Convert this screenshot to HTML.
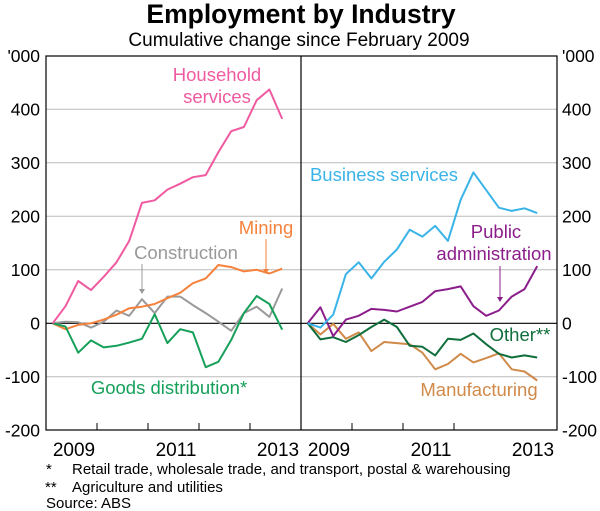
<!DOCTYPE html>
<html><head><meta charset="utf-8"><style>
html,body{margin:0;padding:0;background:#fff;}
svg{display:block;font-family:"Liberation Sans",Arial,sans-serif;}
</style></head><body>
<svg id="chart" width="600" height="511" viewBox="0 0 600 511">
<text x="301" y="23" text-anchor="middle" font-size="26.5" font-weight="bold" fill="#000">Employment by Industry</text>
<text x="299" y="46" text-anchor="middle" font-size="19" fill="#000">Cumulative change since February 2009</text>
<g id="grid"></g>
<g id="series"></g>
<g id="labels" font-size="18.5"></g>
<text x="46" y="474" font-size="15">*</text>
<text x="72" y="474" font-size="15">Retail trade, wholesale trade, and transport, postal &amp; warehousing</text>
<text x="45" y="492" font-size="15">**</text>
<text x="72" y="492" font-size="15">Agriculture and utilities</text>
<text x="46" y="508" font-size="15">Source: ABS</text>
</svg>
<script>
const yTicks = [500, 400, 300, 200, 100, 0, -100, -200];
const yTickLabels = ["'000", "400", "300", "200", "100", "0", "-100", "-200"];
const yearLabels = ["2009", "2011", "2013"];
const household = [0,32,79,62,87,114,154,225,230,250,261,273,277,320,359,367,417,437,382];
const mining = [0,-11,-3,0,7,16,28,31,36,47,57,75,84,109,105,97,100,93,102];
const construction = [0,3,2,-8,3,24,14,45,19,50,50,34,19,3,-14,19,31,12,65];
const goodsDist = [0,-6,-55,-32,-45,-42,-36,-29,17,-37,-11,-17,-82,-72,-31,19,51,36,-12];
const business = [0,-8,16,92,114,84,115,138,175,162,182,154,231,282,249,216,210,215,206];
const publicAdmin = [0,30,-24,7,14,27,25,22,31,40,60,64,69,32,14,24,50,64,107];
const other = [0,-30,-26,-35,-22,-7,7,-7,-42,-44,-60,-29,-31,-19,-39,-57,-64,-60,-64];
const manufacturing = [0,-21,-1,-29,-17,-52,-35,-37,-39,-55,-86,-76,-57,-73,-65,-56,-86,-90,-107];

const NS = "http://www.w3.org/2000/svg";
const L = 46, M = 301, R = 557, T = 56, B = 430;
function y(v){ return 323.3 - v * 0.535; }
function x(i, panel){ return 52.7 + panel * 255 + i * 12.75; }
function mk(tag, attrs, parent){ const e = document.createElementNS(NS, tag); for (const k in attrs) e.setAttribute(k, attrs[k]); parent.appendChild(e); return e; }

const grid = document.getElementById('grid');
yTicks.forEach((v, k) => {
  if (v < 500 && v > -200) {
    const ln = mk('line', {x1:L, x2:R, y1:y(v), y2:y(v), stroke: v===0 ? '#000' : '#bbb', 'stroke-width': v===0 ? 1.2 : 1}, grid);
    
    
  }
  const tl = mk('text', {x: 40, y: y(v) + 6, 'text-anchor':'end', 'font-size':17.5}, grid);
  tl.textContent = yTickLabels[k];
  
  
  const tr = mk('text', {x: 562, y: y(v) + 6, 'font-size':17.5}, grid);
  tr.textContent = yTickLabels[k];
  
  
});
const frame = mk('rect', {x:L, y:T, width:R-L, height:B-T, fill:'none', stroke:'#000', 'stroke-width':1.2}, grid);


const div = mk('line', {x1:M, x2:M, y1:T, y2:B, stroke:'#000', 'stroke-width':1.2}, grid);


for (let p = 0; p < 2; p++) {
  for (let t = 1; t <= 4; t++) {
    const tx = L + p * 255 + t * 51;
    if (t === 4 && p === 1) continue;
    const tk = mk('line', {x1:tx, x2:tx, y1:B, y2:B-7, stroke:'#000'}, grid);
    
    
  }
  yearLabels.forEach((lab, k) => {
    const t = mk('text', {x: 74 + p * 255 + k * 102, y: 456, 'text-anchor':'middle', 'font-size':19}, grid);
    t.textContent = lab;
    
    
  });
}

const seriesG = document.getElementById('series');
function drawLine(data, panel, color, name){
  const pts = data.map((v, i) => x(i, panel).toFixed(1) + ',' + y(v).toFixed(1)).join(' ');
  const pl = mk('polyline', {points: pts, fill:'none', stroke: color, 'stroke-width': 2, 'stroke-linejoin':'round'}, seriesG);
  
  
}
drawLine(construction, 0, '#999999', 'construction-line');
drawLine(mining, 0, '#f5823c', 'mining-line');
drawLine(goodsDist, 0, '#16a05a', 'goods-distribution-line');
drawLine(household, 0, '#ef5aa0', 'household-services-line');
drawLine(manufacturing, 1, '#d08a4a', 'manufacturing-line');
drawLine(other, 1, '#0f6e3c', 'other-line');
drawLine(publicAdmin, 1, '#8c1e8c', 'public-administration-line');
drawLine(business, 1, '#3ab4e8', 'business-services-line');

const lg = document.getElementById('labels');
function lab(txt, lx, ly, color, anchor, name){
  const t = mk('text', {x:lx, y:ly, fill:color, 'text-anchor':anchor}, lg);
  t.textContent = txt;
  
  
}
lab('Household', 217, 81, '#ef5aa0', 'middle', 'household-label-1');
lab('services', 217, 103, '#ef5aa0', 'middle', 'household-label-2');
lab('Mining', 266, 234, '#f5823c', 'middle', 'mining-label');
lab('Construction', 186, 259, '#999999', 'middle', 'construction-label');
lab('Goods distribution*', 169, 394, '#16a05a', 'middle', 'goods-distribution-label');
lab('Business services', 384, 181, '#3ab4e8', 'middle', 'business-services-label');
lab('Public', 496, 238, '#8c1e8c', 'middle', 'public-admin-label-1');
lab('administration', 494, 260, '#8c1e8c', 'middle', 'public-admin-label-2');
lab('Other**', 520, 341, '#0f6e3c', 'middle', 'other-label');
lab('Manufacturing', 479, 396, '#d08a4a', 'middle', 'manufacturing-label');
function arrow(ax, y1, y2, color, name){
  const a = mk('line', {x1:ax, x2:ax, y1:y1, y2:y2-4, stroke:color, 'stroke-width':1}, lg);
  
  
  const h = mk('polygon', {points: (ax-3)+','+(y2-5)+' '+(ax+3)+','+(y2-5)+' '+ax+','+y2, fill:color}, lg);
  
  
}
arrow(266, 239, 274, '#f5823c', 'mining-arrow');
arrow(142, 264, 294, '#999999', 'construction-arrow');
arrow(500, 266, 302, '#8c1e8c', 'public-admin-arrow');
</script>
</body></html>
